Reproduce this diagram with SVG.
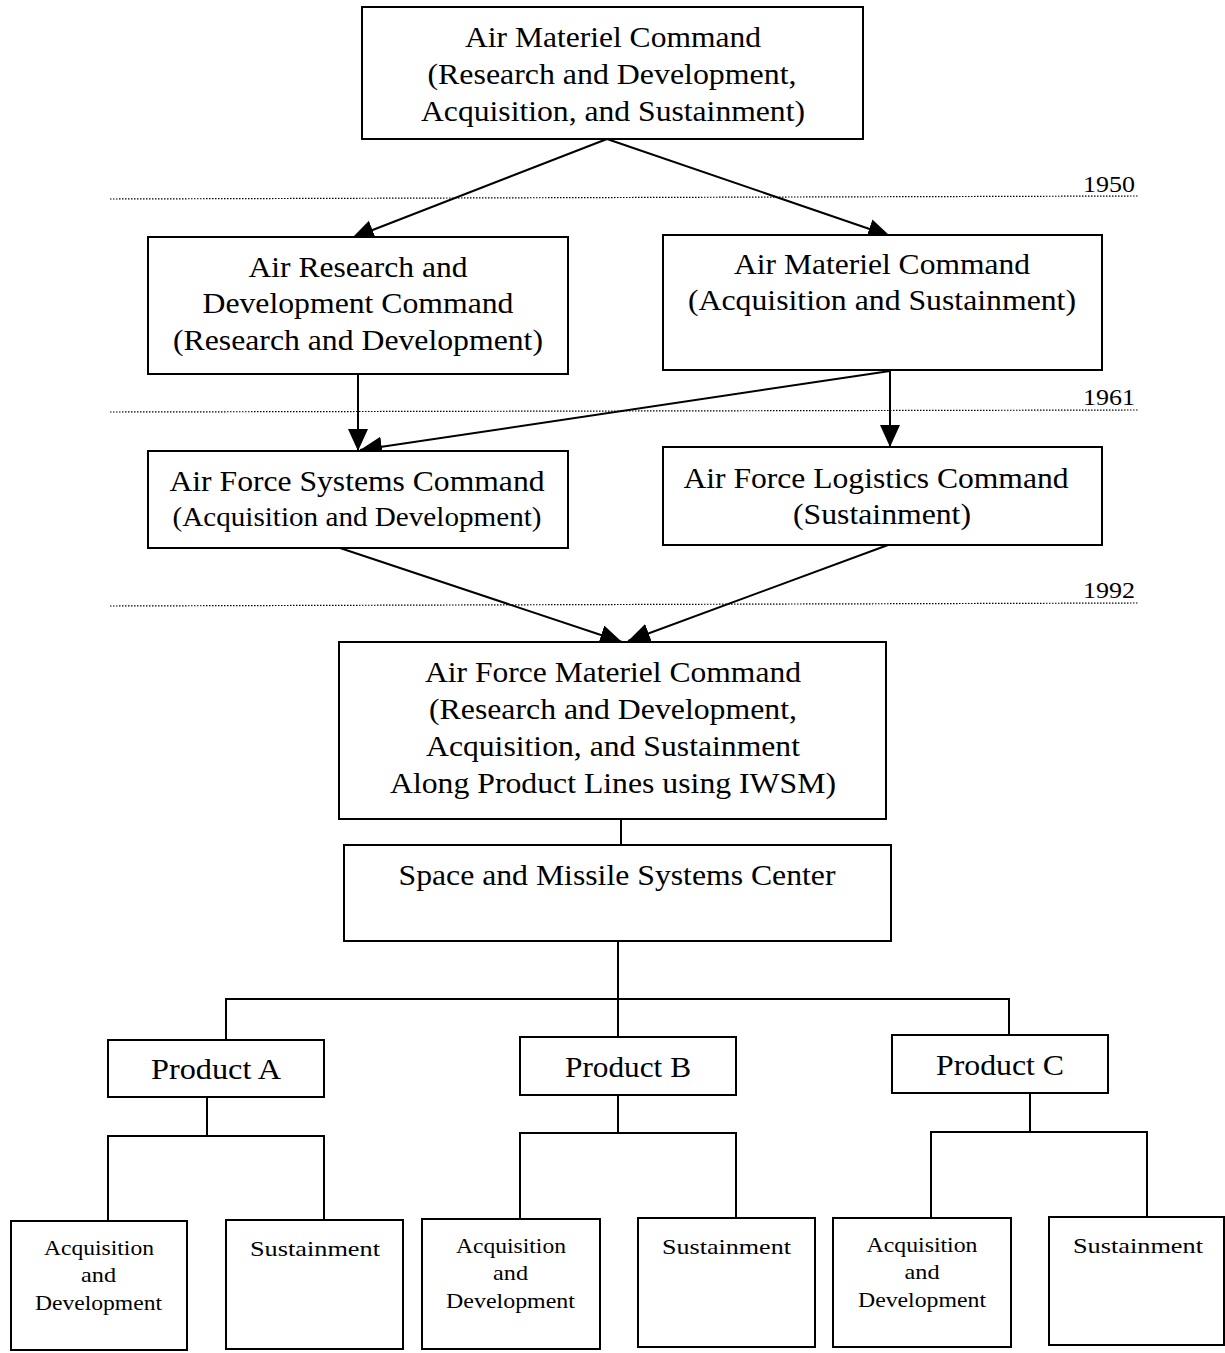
<svg xmlns="http://www.w3.org/2000/svg" width="1225" height="1353" viewBox="0 0 1225 1353">
<style>
.box{fill:#fff;stroke:#000;stroke-width:2}
text{font-family:"Liberation Serif","Times New Roman",serif;fill:#000}
.t{font-size:30px;text-anchor:middle}
.s{font-size:22px;text-anchor:middle}
.y{font-size:24px;text-anchor:end}
.c{stroke:#000;stroke-width:2;fill:none}
.a{stroke:#000;stroke-width:2;fill:none;marker-end:url(#ah)}
.d{stroke:#000;stroke-width:1.2;stroke-dasharray:1.5 1.5;fill:none}
</style>
<defs>
<marker id="ah" markerUnits="userSpaceOnUse" markerWidth="24" markerHeight="22" refX="22" refY="10" orient="auto">
<path d="M0,0 L22,10 L0,20 Z" fill="#000"/>
</marker>
</defs>
<g id="timeline">
<line class="d" x1="110" y1="199" x2="1138" y2="196"/>
<text class="y" x="1135" y="192" textLength="52" lengthAdjust="spacingAndGlyphs">1950</text>
<line class="d" x1="110" y1="412" x2="1138" y2="410"/>
<text class="y" x="1135" y="405" textLength="52" lengthAdjust="spacingAndGlyphs">1961</text>
<line class="d" x1="110" y1="606" x2="1138" y2="603"/>
<text class="y" x="1135" y="598" textLength="52" lengthAdjust="spacingAndGlyphs">1992</text>
</g>
<g id="connectors">
<line class="a" x1="607" y1="139" x2="352" y2="238"/>
<line class="a" x1="607" y1="139" x2="890" y2="236"/>
<line class="a" x1="358" y1="374" x2="358" y2="451"/>
<line class="a" x1="890" y1="371" x2="360" y2="450"/>
<line class="a" x1="890" y1="371" x2="890" y2="447"/>
<line class="a" x1="340" y1="548" x2="622" y2="642"/>
<line class="a" x1="888" y1="545" x2="628" y2="641"/>
<line class="c" x1="621" y1="819" x2="621" y2="845"/>
<polyline class="c" points="226,1040 226,999 1009,999 1009,1035"/>
<line class="c" x1="618" y1="941" x2="618" y2="1037"/>
<line class="c" x1="207" y1="1097" x2="207" y2="1136"/>
<polyline class="c" points="108,1221 108,1136 324,1136 324,1220"/>
<line class="c" x1="618" y1="1095" x2="618" y2="1133"/>
<polyline class="c" points="520,1219 520,1133 736,1133 736,1218"/>
<line class="c" x1="1030" y1="1093" x2="1030" y2="1132"/>
<polyline class="c" points="931,1218 931,1132 1147,1132 1147,1217"/>
</g>
<g id="amc1">
<rect class="box" x="362" y="7" width="501" height="132"/>
<text class="t" x="613" y="47" textLength="296" lengthAdjust="spacingAndGlyphs">Air Materiel Command</text>
<text class="t" x="612" y="84" textLength="369" lengthAdjust="spacingAndGlyphs">(Research and Development,</text>
<text class="t" x="613" y="121" textLength="384" lengthAdjust="spacingAndGlyphs">Acquisition, and Sustainment)</text>
</g>
<g id="ardc">
<rect class="box" x="148" y="237" width="420" height="137"/>
<text class="t" x="358" y="277" textLength="219" lengthAdjust="spacingAndGlyphs">Air Research and</text>
<text class="t" x="358" y="313" textLength="311" lengthAdjust="spacingAndGlyphs">Development Command</text>
<text class="t" x="358" y="350" textLength="370" lengthAdjust="spacingAndGlyphs">(Research and Development)</text>
</g>
<g id="amc2">
<rect class="box" x="663" y="235" width="439" height="135"/>
<text class="t" x="882" y="274" textLength="296" lengthAdjust="spacingAndGlyphs">Air Materiel Command</text>
<text class="t" x="882" y="310" textLength="388" lengthAdjust="spacingAndGlyphs">(Acquisition and Sustainment)</text>
</g>
<g id="afsc">
<rect class="box" x="148" y="451" width="420" height="97"/>
<text class="t" x="357" y="491" textLength="375" lengthAdjust="spacingAndGlyphs">Air Force Systems Command</text>
<text class="t" x="357" y="526" style="font-size:27px" textLength="369" lengthAdjust="spacingAndGlyphs">(Acquisition and Development)</text>
</g>
<g id="aflc">
<rect class="box" x="663" y="447" width="439" height="98"/>
<text class="t" x="876" y="488" textLength="385" lengthAdjust="spacingAndGlyphs">Air Force Logistics Command</text>
<text class="t" x="882" y="524" textLength="178" lengthAdjust="spacingAndGlyphs">(Sustainment)</text>
</g>
<g id="afmc">
<rect class="box" x="339" y="642" width="547" height="177"/>
<text class="t" x="613" y="682" textLength="376" lengthAdjust="spacingAndGlyphs">Air Force Materiel Command</text>
<text class="t" x="613" y="719" textLength="368" lengthAdjust="spacingAndGlyphs">(Research and Development,</text>
<text class="t" x="613" y="756" textLength="374" lengthAdjust="spacingAndGlyphs">Acquisition, and Sustainment</text>
<text class="t" x="613" y="793" textLength="446" lengthAdjust="spacingAndGlyphs">Along Product Lines using IWSM)</text>
</g>
<g id="smc">
<rect class="box" x="344" y="845" width="547" height="96"/>
<text class="t" x="617" y="885" textLength="437" lengthAdjust="spacingAndGlyphs">Space and Missile Systems Center</text>
</g>
<g id="productA">
<rect class="box" x="108" y="1040" width="216" height="57"/>
<text class="t" x="216" y="1079" textLength="130" lengthAdjust="spacingAndGlyphs">Product A</text>
</g>
<g id="productB">
<rect class="box" x="520" y="1037" width="216" height="58"/>
<text class="t" x="628" y="1077" textLength="126" lengthAdjust="spacingAndGlyphs">Product B</text>
</g>
<g id="productC">
<rect class="box" x="892" y="1035" width="216" height="58"/>
<text class="t" x="1000" y="1075" textLength="128" lengthAdjust="spacingAndGlyphs">Product C</text>
</g>
<g id="acqA">
<rect class="box" x="11" y="1221" width="176" height="129"/>
<text class="s" x="99" y="1255" textLength="110" lengthAdjust="spacingAndGlyphs">Acquisition</text>
<text class="s" x="98.5" y="1282" textLength="35" lengthAdjust="spacingAndGlyphs">and</text>
<text class="s" x="98.5" y="1310" textLength="127" lengthAdjust="spacingAndGlyphs">Development</text>
</g>
<g id="susA">
<rect class="box" x="226" y="1220" width="177" height="129"/>
<text class="s" x="315" y="1256" textLength="130" lengthAdjust="spacingAndGlyphs">Sustainment</text>
</g>
<g id="acqB">
<rect class="box" x="422" y="1219" width="178" height="130"/>
<text class="s" x="511" y="1253" textLength="110" lengthAdjust="spacingAndGlyphs">Acquisition</text>
<text class="s" x="510.5" y="1280" textLength="35" lengthAdjust="spacingAndGlyphs">and</text>
<text class="s" x="510.5" y="1308" textLength="129" lengthAdjust="spacingAndGlyphs">Development</text>
</g>
<g id="susB">
<rect class="box" x="638" y="1218" width="177" height="129"/>
<text class="s" x="726.5" y="1254" textLength="129" lengthAdjust="spacingAndGlyphs">Sustainment</text>
</g>
<g id="acqC">
<rect class="box" x="833" y="1218" width="178" height="129"/>
<text class="s" x="922" y="1252" textLength="111" lengthAdjust="spacingAndGlyphs">Acquisition</text>
<text class="s" x="922" y="1279" textLength="35" lengthAdjust="spacingAndGlyphs">and</text>
<text class="s" x="922" y="1307" textLength="128" lengthAdjust="spacingAndGlyphs">Development</text>
</g>
<g id="susC">
<rect class="box" x="1049" y="1217" width="175" height="128"/>
<text class="s" x="1138" y="1253" textLength="130" lengthAdjust="spacingAndGlyphs">Sustainment</text>
</g>
</svg>
